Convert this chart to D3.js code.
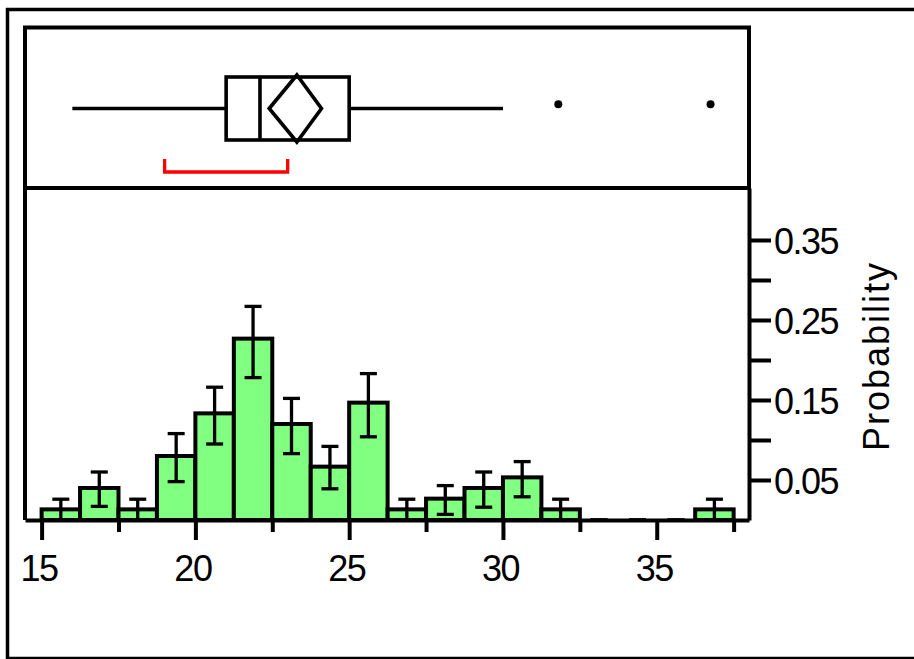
<!DOCTYPE html>
<html>
<head>
<meta charset="utf-8">
<script src="https://cdn.jsdelivr.net/npm/d3@7"></script>
<style>
body { margin: 0; background: #fff; }
svg text { font-family: "Liberation Sans", Arial, sans-serif; fill: #000; }
</style>
</head>
<body>
<div id="chart"></div>
<script>

// histogram bins (lower / upper edges)
var binStart = [15, 16.25, 17.5, 18.75, 20, 21.25, 22.5, 23.75, 25, 26.25, 27.5, 28.75, 30, 31.25, 32.5, 33.75, 35, 36.25];
var binEnd   = [16.25, 17.5, 18.75, 20, 21.25, 22.5, 23.75, 25, 26.25, 27.5, 28.75, 30, 31.25, 32.5, 33.75, 35, 36.25, 37.5];
var prob     = [0.0133, 0.04, 0.0133, 0.08, 0.1333, 0.2267, 0.12, 0.0667, 0.1467, 0.0133, 0.0267, 0.04, 0.0533, 0.0133, 0, 0, 0, 0.0133];
// error bar ends
var errLo    = [0, 0.017, 0, 0.048, 0.095, 0.178, 0.083, 0.039, 0.104, 0, 0.007, 0.016, 0.029, 0, 0, 0, 0, 0];
var errHi    = [0.026, 0.060, 0.026, 0.108, 0.166, 0.267, 0.152, 0.092, 0.183, 0.026, 0.043, 0.060, 0.073, 0.026, 0, 0, 0, 0.026];

var xTicks = [15, 20, 25, 30, 35];
var xMinor = [17.5, 22.5, 27.5, 32.5, 37.5];
var yTicks = [0.05, 0.15, 0.25, 0.35];
var yMinor = [0.10, 0.20, 0.30];

// outlier box plot
var whiskers = [16, 30];
var quartiles = [21, 22.1, 25];     // q1, median, q3
var outliers = [31.8, 36.75];
var meanDiamond = [22.4, 23.3, 24.1]; // lower CI, mean, upper CI
var shortestHalf = [19, 23];

var width = 914, height = 659;
var plotL = 25, plotR = 749, boxTop = 27.5, boxBottom = 188, histBottom = 520;

var x = d3.scaleLinear().domain([14.46, 38.0]).range([plotL, plotR]);
var y = d3.scaleLinear().domain([0, 0.415]).range([histBottom, boxBottom]);

var svg = d3.select("#chart").append("svg")
    .attr("width", width)
    .attr("height", height);

// outer frame (right side runs off the picture)
svg.append("rect")
    .attr("x", 7.5).attr("y", 9.5)
    .attr("width", 1000).attr("height", 649)
    .attr("fill", "none").attr("stroke", "#000").attr("stroke-width", 3.5);

// ---- histogram ----
var bins = prob.map(function(p, i) {
  return {lo: binStart[i], hi: binEnd[i], p: p, eLo: errLo[i], eHi: errHi[i]};
});

svg.append("g").selectAll("rect")
    .data(bins.filter(function(d) { return d.p > 0; }))
  .enter().append("rect")
    .attr("x", function(d) { return x(d.lo); })
    .attr("y", function(d) { return y(d.p); })
    .attr("width", function(d) { return x(d.hi) - x(d.lo); })
    .attr("height", function(d) { return y(0) - y(d.p); })
    .attr("fill", "#80ff80")
    .attr("stroke", "#000")
    .attr("stroke-width", 4);

var err = svg.append("g")
    .attr("stroke", "#000")
    .attr("stroke-width", 3.3)
  .selectAll("g")
    .data(bins)
  .enter().append("g")
    .attr("transform", function(d) { return "translate(" + x((d.lo + d.hi) / 2) + ",0)"; });

err.append("line")
    .attr("y1", function(d) { return y(d.eLo); })
    .attr("y2", function(d) { return y(d.eHi); });
err.append("line")
    .attr("x1", -8.5).attr("x2", 8.5)
    .attr("y1", function(d) { return y(d.eHi); })
    .attr("y2", function(d) { return y(d.eHi); });
err.append("line")
    .attr("x1", -8.5).attr("x2", 8.5)
    .attr("y1", function(d) { return y(d.eLo); })
    .attr("y2", function(d) { return y(d.eLo); });

// x axis
var xAxis = d3.axisBottom(x).tickValues(xTicks).tickSize(20).tickSizeOuter(0).tickPadding(15);
var xAxisMinor = d3.axisBottom(x).tickValues(xMinor).tickSize(12).tickSizeOuter(0).tickFormat("");

var gx = svg.append("g")
    .attr("class", "x axis")
    .attr("transform", "translate(0," + histBottom + ")")
    .call(xAxis);
svg.append("g")
    .attr("transform", "translate(0," + histBottom + ")")
    .call(xAxisMinor)
    .select(".domain").remove();

// y axis on the right
var yAxis = d3.axisRight(y).tickValues(yTicks).tickSize(22).tickSizeOuter(0).tickPadding(3)
    .tickFormat(d3.format(".2f"));
var yAxisMinor = d3.axisRight(y).tickValues(yMinor).tickSize(22).tickSizeOuter(0).tickFormat("");

var gy = svg.append("g")
    .attr("class", "y axis")
    .attr("transform", "translate(" + plotR + ",0)")
    .call(yAxis);
svg.append("g")
    .attr("transform", "translate(" + plotR + ",0)")
    .call(yAxisMinor)
    .select(".domain").remove();

svg.selectAll(".axis path, .axis line, g.tick line")
    .attr("stroke", "#000")
    .attr("stroke-width", 4);
svg.selectAll(".axis text")
    .attr("font-size", 36)
    .attr("fill", "#000")
    .attr("letter-spacing", -1.5);
gx.selectAll("text").attr("x", -3);
gy.selectAll("text").attr("dy", "0.37em");

// left edge of histogram panel
svg.append("line")
    .attr("x1", plotL).attr("x2", plotL)
    .attr("y1", boxBottom).attr("y2", histBottom)
    .attr("stroke", "#000").attr("stroke-width", 4);

svg.append("text")
    .attr("transform", "translate(889," + (y(0.205)) + ") rotate(-90)")
    .attr("text-anchor", "middle")
    .attr("font-size", 36)
    .attr("letter-spacing", 2)
    .text("Probability");

// ---- box plot panel ----
svg.append("rect")
    .attr("x", plotL).attr("y", boxTop)
    .attr("width", plotR - plotL).attr("height", boxBottom - boxTop)
    .attr("fill", "none").attr("stroke", "#000").attr("stroke-width", 4);

var bp = svg.append("g")
    .attr("fill", "none")
    .attr("stroke", "#000")
    .attr("stroke-width", 3.6);

var midY = 108.5, bTop = 77, bBot = 140;

bp.append("line")
    .attr("x1", x(whiskers[0])).attr("x2", x(quartiles[0]))
    .attr("y1", midY).attr("y2", midY);
bp.append("line")
    .attr("x1", x(quartiles[2])).attr("x2", x(whiskers[1]))
    .attr("y1", midY).attr("y2", midY);
bp.append("rect")
    .attr("x", x(quartiles[0])).attr("y", bTop)
    .attr("width", x(quartiles[2]) - x(quartiles[0]))
    .attr("height", bBot - bTop);
bp.append("line")
    .attr("x1", x(quartiles[1])).attr("x2", x(quartiles[1]))
    .attr("y1", bTop).attr("y2", bBot);
bp.append("path")
    .attr("d", d3.line()([
      [x(meanDiamond[0]), midY],
      [x(meanDiamond[1]), bTop - 2],
      [x(meanDiamond[2]), midY],
      [x(meanDiamond[1]), bBot + 2]
    ]) + "Z");

svg.append("g").selectAll("circle")
    .data(outliers)
  .enter().append("circle")
    .attr("cx", function(d) { return x(d); })
    .attr("cy", 104.3)
    .attr("r", 4)
    .attr("fill", "#000");

svg.append("path")
    .attr("d", d3.line()([
      [x(shortestHalf[0]), 159],
      [x(shortestHalf[0]), 172],
      [x(shortestHalf[1]), 172],
      [x(shortestHalf[1]), 159]
    ]))
    .attr("fill", "none")
    .attr("stroke", "#ff0000")
    .attr("stroke-width", 3.3);

</script>
</body>
</html>
